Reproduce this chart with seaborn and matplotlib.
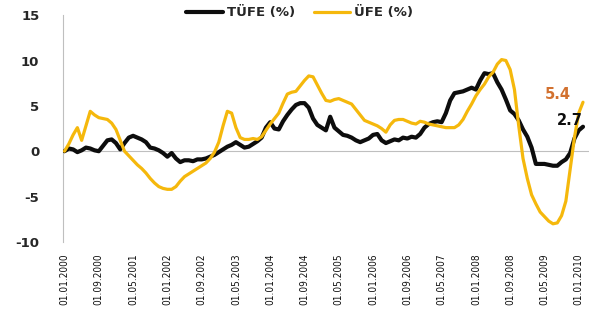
import numpy as np
import pandas as pd
import matplotlib
matplotlib.use("Agg")
import matplotlib.pyplot as plt
import seaborn as sns

# monthly data, Jan 2000 .. Feb 2010
start_month = "2000-01-01"

tufe = [
    0.0, 0.3, 0.2, -0.1, 0.1, 0.4, 0.3, 0.1, 0.0, 0.6,
    1.2, 1.3, 0.9, 0.2, 0.9, 1.5, 1.7, 1.5, 1.3, 1.0,
    0.4, 0.3, 0.1, -0.2, -0.6, -0.2, -0.8, -1.2, -1.0, -1.0,
    -1.1, -0.9, -0.9, -0.8, -0.6, -0.4, -0.1, 0.2, 0.5, 0.7,
    1.0, 0.7, 0.4, 0.5, 0.8, 1.1, 1.5, 2.6, 3.2, 2.5,
    2.4, 3.3, 4.0, 4.6, 5.1, 5.3, 5.3, 4.8, 3.6, 2.9,
    2.6, 2.3, 3.8, 2.6, 2.2, 1.8, 1.7, 1.5, 1.2, 1.0,
    1.2, 1.4, 1.8, 1.9, 1.2, 0.9, 1.1, 1.3, 1.2, 1.5,
    1.4, 1.6, 1.5, 1.9, 2.6, 3.0, 3.2, 3.3, 3.2, 4.2,
    5.6, 6.4, 6.5, 6.6, 6.8, 7.0, 6.8, 7.8, 8.6, 8.5,
    8.6, 7.6, 6.8, 5.7, 4.5, 4.1, 3.4, 2.4, 1.6, 0.4,
    -1.4, -1.4, -1.4, -1.5, -1.6, -1.6, -1.2, -0.9, -0.2, 1.4,
    2.3, 2.7,
]

ufe = [
    0.0, 0.8, 1.8, 2.6, 1.2, 2.8, 4.4, 4.0, 3.7, 3.6,
    3.5, 3.1, 2.4, 1.2, 0.0, -0.5, -1.0, -1.5, -1.9, -2.4,
    -3.0, -3.5, -3.9, -4.1, -4.2, -4.2, -3.9, -3.3, -2.8, -2.5,
    -2.2, -1.9, -1.6, -1.3, -0.8, -0.1, 1.0, 2.8, 4.4, 4.2,
    2.6, 1.5, 1.3, 1.3, 1.4, 1.3, 1.6, 2.3, 3.0, 3.6,
    4.2, 5.3, 6.3, 6.5, 6.6, 7.2, 7.8, 8.3, 8.2, 7.3,
    6.4, 5.6, 5.5, 5.7, 5.8, 5.6, 5.4, 5.2, 4.6, 4.0,
    3.4, 3.2, 3.0, 2.8, 2.5, 2.1, 2.9, 3.4, 3.5, 3.5,
    3.3, 3.1, 3.0, 3.3, 3.2, 3.0, 2.9, 2.8, 2.7, 2.6,
    2.6, 2.6, 2.9, 3.5, 4.4, 5.2, 6.1, 6.8, 7.4, 8.2,
    8.7, 9.6, 10.1, 10.0, 9.0, 6.8, 2.8, -0.8, -3.0, -4.8,
    -5.8, -6.7, -7.2, -7.7, -8.0, -7.9, -7.1, -5.5, -2.0, 1.5,
    4.2, 5.4,
]

series_names = ["TÜFE (%)", "ÜFE (%)"]
tick_labels = [
    "01.01.2000", "01.09.2000", "01.05.2001", "01.01.2002", "01.09.2002",
    "01.05.2003", "01.01.2004", "01.09.2004", "01.05.2005", "01.01.2006",
    "01.09.2006", "01.05.2007", "01.01.2008", "01.09.2008", "01.05.2009",
    "01.01.2010",
]
end_labels = ["2.7", "5.4"]

months = pd.date_range(start_month, periods=len(tufe), freq="MS")
month_str = list(months.strftime("%d.%m.%Y"))

df = pd.concat([
    pd.DataFrame({"idx": np.arange(len(tufe)), "value": tufe, "series": series_names[0]}),
    pd.DataFrame({"idx": np.arange(len(ufe)), "value": ufe, "series": series_names[1]}),
])

sns.set_style("white")
plt.rcParams["font.family"] = ["DejaVu Sans"]
plt.rcParams["axes.unicode_minus"] = False

black = "#0d0d0d"
gold = "#F5B80C"
orange = "#D2712F"
grey = "#BFBFBF"

fig = plt.figure(figsize=(5.89, 3.09), dpi=100)
ax = fig.add_axes([0.107, 0.217, 0.893, 0.734])

sns.lineplot(
    data=df, x="idx", y="value",
    hue="series", size="series",
    palette={series_names[0]: black, series_names[1]: gold},
    sizes={series_names[0]: 3.0, series_names[1]: 2.3},
    hue_order=series_names, size_order=series_names,
    ax=ax, zorder=3,
)

ax.set_xlim(-0.35, 122.4)
ax.set_ylim(-10, 15)
ax.set_xlabel("")
ax.set_ylabel("")

# horizontal axis crosses at zero, labels stay at the bottom
ax.spines["bottom"].set_position(("data", 0))
ax.spines["bottom"].set_color(grey)
ax.spines["left"].set_color(grey)
ax.spines["top"].set_visible(False)
ax.spines["right"].set_visible(False)

tick_pos = [month_str.index(t) for t in tick_labels]
ax.set_xticks(tick_pos, labels=[""] * len(tick_pos))
ax.tick_params(axis="x", direction="out", length=3, color=grey, width=0.8)

sec = ax.secondary_xaxis(location=0)
sec.set_xticks(tick_pos, labels=tick_labels)
sec.tick_params(length=0, pad=8)
sec.spines["bottom"].set_visible(False)
for lab in sec.get_xticklabels():
    lab.set_rotation(90)
    lab.set_stretch("condensed")
    lab.set_fontsize(7.2)
    lab.set_color("#111111")

ax.set_yticks([-10, -5, 0, 5, 10, 15])
ax.tick_params(axis="y", direction="out", length=4, color=grey, width=0.8, pad=13)
for lab in ax.get_yticklabels():
    lab.set_fontweight("bold")
    lab.set_fontsize(9.5)
    lab.set_color("#262626")

# end-of-series value labels
ax.text(115, 3.4, end_labels[0], color=black, fontsize=10.5, fontweight="bold",
        ha="left", va="center")
ax.text(112.0, 6.2, end_labels[1], color=orange, fontsize=10.5, fontweight="bold",
        ha="left", va="center")

sns.move_legend(
    ax, "center", bbox_to_anchor=(0.45, 1.01), ncol=2, frameon=False,
    title=None, handlelength=2.8, handletextpad=0.3, columnspacing=1.4,
    prop={"weight": "bold", "size": 9.5},
)

fig.savefig("out.png", dpi=100)
